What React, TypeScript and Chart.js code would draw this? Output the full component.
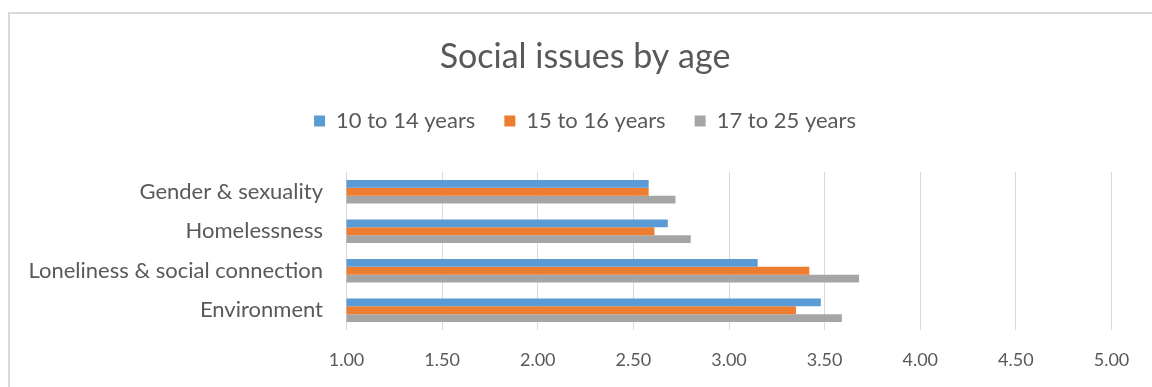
import React, { useEffect, useRef } from "react";
import { Chart, registerables } from "chart.js";

Chart.register(...registerables);

// Survey categories, top to bottom
const categories = [
  "Gender & sexuality",
  "Homelessness",
  "Loneliness & social connection",
  "Environment",
];

// Average rating per age group
const age10to14 = [2.58, 2.68, 3.15, 3.48];
const age15to16 = [2.58, 2.61, 3.42, 3.35];
const age17to25 = [2.72, 2.8, 3.68, 3.59];

const seriesLabels = ["10 to 14 years", "15 to 16 years", "17 to 25 years"];
const seriesColors = ["#5B9BD5", "#ED7D31", "#A5A5A5"];

const xMin = 1;
const xMax = 5;
const xStep = 0.5;

const TEXT = "#595959";
const GRID = "#d9d9d9";
const FONT = "Lato, 'Open Sans', sans-serif";

// Adds breathing room between the legend row and the plot area
const legendGap = {
  id: "legendGap",
  beforeInit(chart: any) {
    const legend = chart.legend;
    if (!legend) return;
    const originalFit = legend.fit;
    legend.fit = function fit() {
      originalFit.bind(legend)();
      this.height += 30;
    };
  },
};

export default function App() {
  const canvasRef = useRef<HTMLCanvasElement | null>(null);

  useEffect(() => {
    const canvas = canvasRef.current;
    if (!canvas) return;
    const values = [age10to14, age15to16, age17to25];
    const chart = new Chart(canvas, {
      type: "bar",
      data: {
        labels: categories,
        datasets: values.map((data, i) => ({
          label: seriesLabels[i],
          data,
          backgroundColor: seriesColors[i],
          borderWidth: 0,
          categoryPercentage: 0.6,
          barPercentage: 1,
        })),
      },
      plugins: [legendGap],
      options: {
        indexAxis: "y",
        responsive: false,
        animation: false,
        layout: { padding: { left: 18, right: 0, top: 0, bottom: 0 } },
        plugins: {
          title: {
            display: true,
            text: "Social issues by age",
            color: TEXT,
            font: { family: FONT, size: 34, weight: "normal", lineHeight: 1.2 },
            padding: { top: 36.6, bottom: 3.6 },
          },
          legend: {
            display: true,
            position: "top",
            labels: {
              color: TEXT,
              font: { family: FONT, size: 22, lineHeight: 1.2 },
              boxWidth: 11,
              boxHeight: 11,
              padding: 29,
            },
          },
          tooltip: { enabled: false },
        },
        scales: {
          x: {
            type: "linear",
            min: xMin,
            max: xMax,
            ticks: {
              stepSize: xStep,
              color: TEXT,
              font: { family: FONT, size: 18 },
              padding: 19,
              callback: (v: any) => Number(v).toFixed(2),
            },
            grid: { color: GRID, lineWidth: 1, drawTicks: false },
            border: { display: false },
            afterFit: (scale: any) => {
              scale.height = 57;
            },
          },
          y: {
            type: "category",
            ticks: {
              color: TEXT,
              font: { family: FONT, size: 22 },
              padding: 23.5,
            },
            grid: { display: false, drawTicks: false },
            border: { display: false },
            afterFit: (scale: any) => {
              scale.width = 328.5;
            },
          },
          // empty right-hand margin so the plot ends where the 5.00 tick sits
          rightMargin: {
            type: "linear",
            position: "right",
            min: 0,
            max: 1,
            ticks: { display: false },
            grid: { display: false, drawTicks: false },
            border: { display: false },
            afterFit: (scale: any) => {
              scale.width = 40.5;
            },
          },
        },
      },
    });
    return () => chart.destroy();
  }, []);

  return (
    <div
      style={{
        position: "fixed",
        left: 0,
        top: 0,
        width: 1152,
        height: 387,
        overflow: "hidden",
        background: "#ffffff",
      }}
    >
      <div
        style={{
          position: "absolute",
          left: 8,
          top: 12,
          width: 1200,
          height: 420,
          borderLeft: "2px solid #dadada",
          borderTop: "2px solid #dadada",
        }}
      />
      <canvas
        ref={canvasRef}
        width={1152}
        height={387}
        style={{ position: "absolute", left: 0, top: 0 }}
      />
    </div>
  );
}
